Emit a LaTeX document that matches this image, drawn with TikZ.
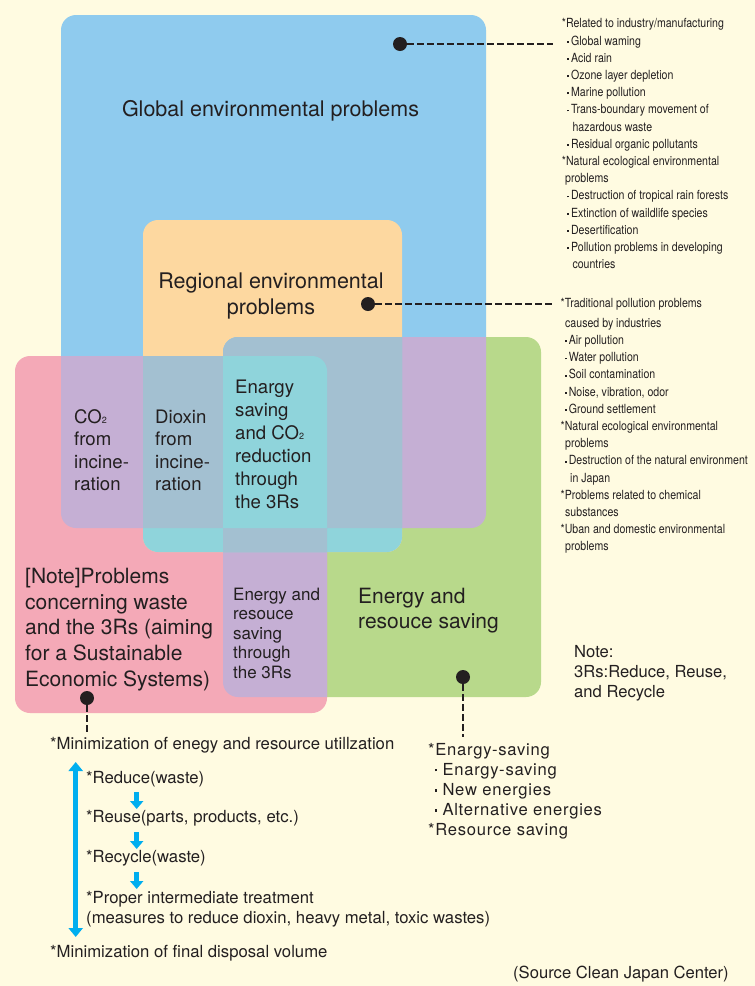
\documentclass[tikz,border=0pt]{standalone}
\usepackage{fontspec}
\setmainfont{TeX Gyre Heros}
\newfontfamily\narrowfont[FakeStretch=0.84]{TeX Gyre Heros}
\newfontfamily\spacedfont[LetterSpace=4.5]{TeX Gyre Heros}
\usetikzlibrary{arrows.meta}

\definecolor{bgcream}{HTML}{FFFBE1}
\definecolor{gblue}{HTML}{8FCBEE}
\definecolor{rorange}{HTML}{FDD8A0}
\definecolor{egreen}{HTML}{B8D98B}
\definecolor{wpink}{HTML}{F4A9B7}
\definecolor{mixpurple}{HTML}{C5AFD4}
\definecolor{mixgrey}{HTML}{A3C0D1}
\definecolor{mixcyan}{HTML}{8FD4DB}
\definecolor{arrowblue}{HTML}{00AEEF}
\definecolor{ink}{HTML}{231F20}

\newcommand{\cotwo}{CO{\fontsize{9}{9}\selectfont 2}}
% list bullets: a small raised dot
\newcommand{\smallbullet}{\raisebox{2.4pt}{\rule{1.8pt}{1.8pt}}\hspace{2pt}}
\newcommand{\widebullet}{\raisebox{3.85pt}{\rule{2.3pt}{2.3pt}}\hspace{5.1pt}}

% multi-line nodes below are placed by the baseline of their last line
\begin{document}
\begin{tikzpicture}[x=1pt,y=-1pt,
  rc/.style={rounded corners=15pt},
  txt/.style={inner sep=0pt, text=ink, align=left, anchor=base west},
  dot/.style={circle, fill=ink, inner sep=0pt, minimum size=14pt},
  leader/.style={draw=ink, line width=1.2pt, dash pattern=on 6.5pt off 3.5pt},
  steparrow/.style={draw=arrowblue, line width=5.5pt, -{Triangle[width=13pt,length=8pt]}},
  rangearrow/.style={draw=arrowblue, line width=5.5pt,
    {Triangle[width=14pt,length=9pt]}-{Triangle[width=14pt,length=9pt]}},
  bigfont/.style={font=\fontsize{21.5}{26}\selectfont},
  midfont/.style={font=\fontsize{18.6}{22.5}\selectfont},
  listfont/.style={font=\narrowfont\fontsize{12.6}{17.2}\selectfont},
  bodyfont/.style={font=\fontsize{16.7}{20}\selectfont}
]
\useasboundingbox (0,0) rectangle (755,986);
\fill[bgcream] (0,0) rectangle (755,986);

% the four problem areas
\fill[gblue,rc]   (61,15) rectangle (486,528);
\fill[egreen,rc]  (223,337) rectangle (541,697);
\fill[wpink,rc]   (15,356) rectangle (327,713);
\fill[rorange,rc] (143,220) rectangle (402,552);

% overlaps of two areas
\begin{scope}
  \clip[rc] (61,15) rectangle (486,528);
  \fill[mixpurple,rc] (223,337) rectangle (541,697);
  \fill[mixpurple,rc] (15,356) rectangle (327,713);
\end{scope}
\begin{scope}
  \clip[rc] (223,337) rectangle (541,697);
  \fill[mixpurple,rc] (15,356) rectangle (327,713);
\end{scope}
\begin{scope}
  \clip[rc] (143,220) rectangle (402,552);
  \fill[mixcyan,rc] (223,337) rectangle (541,697);
  \fill[mixcyan,rc] (15,356) rectangle (327,713);
\end{scope}

% overlaps of three areas
\begin{scope}
  \clip[rc] (143,220) rectangle (402,552);
  \clip[rc] (61,15) rectangle (486,528);
  \fill[mixgrey,rc] (223,337) rectangle (541,697);
  \fill[mixgrey,rc] (15,356) rectangle (327,713);
\end{scope}
\begin{scope}
  \clip[rc] (143,220) rectangle (402,552);
  \clip[rc] (223,337) rectangle (541,697);
  \fill[mixgrey,rc] (15,356) rectangle (327,713);
\end{scope}

% overlap of all four
\begin{scope}
  \clip[rc] (143,220) rectangle (402,552);
  \clip[rc] (61,15) rectangle (486,528);
  \clip[rc] (223,337) rectangle (541,697);
  \fill[mixcyan,rc] (15,356) rectangle (327,713);
\end{scope}

% area titles
\node[txt, bigfont, anchor=base] (global) at (270.5,116.5) {Global environmental problems};
\node[txt, bigfont, align=center, anchor=base] (regional) at (271,314.5) {Regional environmental\\problems};
\node[txt, midfont] (co2) at (74,490.5) {\cotwo\\from\\incine-\\ration};
\node[txt, midfont] (dioxin) at (155,490.5) {Dioxin\\from\\incine-\\ration};
\node[txt, font=\fontsize{18.6}{23}\selectfont] (esave3r) at (235,508.6)
  {Enargy\\saving\\and \cotwo\\reduction\\through\\the 3Rs};
\node[txt, font=\fontsize{21}{25.7}\selectfont] (waste) at (25,686.1)
  {[Note]Problems\\concerning waste\\and the 3Rs (aiming\\for a Sustainable\\Economic Systems)};
\node[txt, font=\fontsize{17}{19.5}\selectfont] (resave3r) at (233,678)
  {Energy and\\resouce\\saving\\through\\the 3Rs};
\node[txt, font=\fontsize{21}{25}\selectfont] (resave) at (358,628.3) {Energy and\\resouce saving};

% markers
\node[dot] (gdot) at (400,44) {};
\node[dot] (rdot) at (368,304) {};
\node[dot] (wdot) at (87,698) {};
\node[dot] (edot) at (463,677) {};
\coordinate (gend) at (553,44);
\coordinate (rend) at (553,304);
\coordinate (wend) at (87,735);
\coordinate (eend) at (463,737);
\draw[leader] (gdot) -- (gend);
\draw[leader] (rdot) -- (rend);
\draw[leader] (wdot) -- (wend);
\draw[leader] (edot) -- (eend);

% lists on the right
\node[txt, listfont] (globlist) at (561.7,268.6) {*Related to industry/manufacturing\\
\hspace*{5.4pt}\smallbullet Global waming\\
\hspace*{5.4pt}\smallbullet Acid rain\\
\hspace*{5.4pt}\smallbullet Ozone layer depletion\\
\hspace*{5.4pt}\smallbullet Marine pollution\\
\hspace*{5.4pt}\smallbullet Trans-boundary movement of\\
\hspace*{10.6pt}hazardous waste\\
\hspace*{5.4pt}\smallbullet Residual organic pollutants\\
*Natural ecological environmental\\
\hspace*{3.3pt}problems\\
\hspace*{5.4pt}\smallbullet Destruction of tropical rain forests\\
\hspace*{5.4pt}\smallbullet Extinction of waildlife species\\
\hspace*{5.4pt}\smallbullet Desertification\\
\hspace*{5.4pt}\smallbullet Pollution problems in developing\\
\hspace*{10.6pt}countries};

\node[txt, listfont] (reglist) at (560.5,550.9) {*Traditional pollution problems\\[2.6pt]
\hspace*{4.5pt}caused by industries\\
\hspace*{4.3pt}\smallbullet Air pollution\\
\hspace*{4.3pt}\smallbullet Water pollution\\
\hspace*{4.3pt}\smallbullet Soil contamination\\
\hspace*{4.3pt}\smallbullet Noise, vibration, odor\\
\hspace*{4.3pt}\smallbullet Ground settlement\\
*Natural ecological environmental\\
\hspace*{4.5pt}problems\\
\hspace*{4.3pt}\smallbullet Destruction of the natural environment\\
\hspace*{9.5pt}in Japan\\
*Problems related to chemical\\
\hspace*{4.5pt}substances\\
*Uban and domestic environmental\\
\hspace*{4.5pt}problems};

\node[txt, font=\fontsize{16.6}{20}\selectfont] (note) at (574,697) {Note:\\3Rs:Reduce, Reuse,\\and Recycle};

% the 3Rs sequence
\node[txt, bodyfont] (minuse) at (50,749) {*Minimization of enegy and resource utillzation};
\node[txt, bodyfont] (reduce) at (86,783) {*Reduce(waste)};
\node[txt, bodyfont] (reuse) at (86,822) {*Reuse(parts, products, etc.)};
\node[txt, bodyfont] (recycle) at (86,862) {*Recycle(waste)};
\node[txt, bodyfont] (treat) at (86,923) {*Proper intermediate treatment\\(measures to reduce dioxin, heavy metal, toxic wastes)};
\node[txt, bodyfont] (mindisp) at (50,957) {*Minimization of final disposal volume};

\coordinate (s1a) at (136.7,792);
\coordinate (s1b) at (136.7,809);
\coordinate (s2a) at (136.7,832);
\coordinate (s2b) at (136.7,849);
\coordinate (s3a) at (136.7,872);
\coordinate (s3b) at (136.7,889);
\draw[steparrow] (s1a) -- (s1b);
\draw[steparrow] (s2a) -- (s2b);
\draw[steparrow] (s3a) -- (s3b);
\coordinate (rtop) at (75.7,762);
\coordinate (rbot) at (75.7,937);
\draw[rangearrow] (rtop) -- (rbot);

% energy and resource saving list
\node[txt, font=\spacedfont\fontsize{16.6}{20.2}\selectfont] (elist) at (428,835.8) {*Enargy-saving\\
\hspace*{6.9pt}\widebullet Enargy-saving\\
\hspace*{6.9pt}\widebullet New energies\\
\hspace*{6.9pt}\widebullet Alternative energies\\
*Resource saving};

\node[txt, font=\fontsize{16.6}{20}\selectfont] (source) at (513,978) {(Source Clean Japan Center)};
\end{tikzpicture}
\end{document}
